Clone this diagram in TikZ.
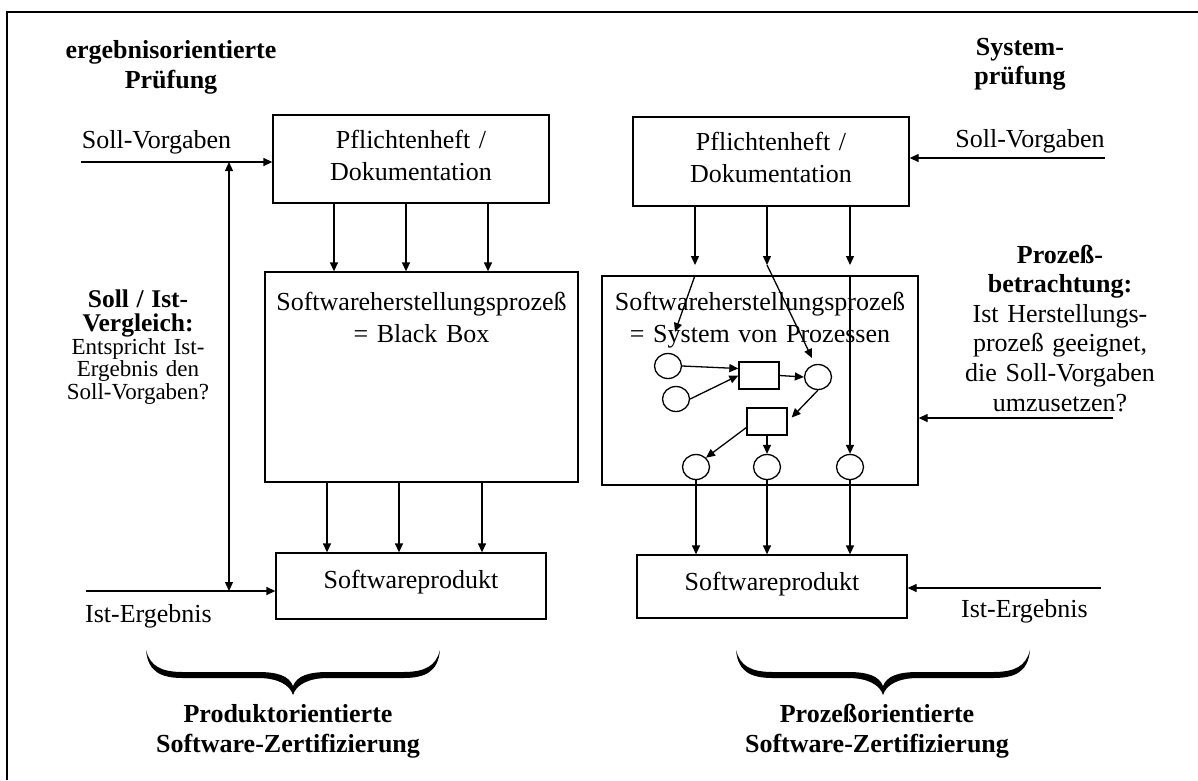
\documentclass[tikz,border=0pt]{standalone}
\usepackage{fontspec}
\setmainfont{Liberation Serif}
\usetikzlibrary{arrows.meta,shapes.geometric,calc}
\tikzset{
  ln/.style={line width=1.3pt},
  arr/.style={line width=1.3pt,-{Triangle[length=9pt,width=8pt]}},
  darr/.style={line width=1.3pt,{Triangle[length=9pt,width=8pt]}-{Triangle[length=9pt,width=8pt]}},
  box/.style={draw,line width=1.3pt,inner sep=0pt,rectangle},
  place/.style={draw,ellipse,line width=1.3pt,minimum width=27pt,minimum height=25pt,inner sep=0pt},
  trans/.style={draw,rectangle,line width=1.3pt,minimum width=40pt,minimum height=27pt,inner sep=0pt},
  txt/.style={inner sep=0pt,anchor=base,text width=#1,align=center},
  txt/.default=340pt,
  wbrace/.pic={
    \fill (-147,-45) .. controls (-145,-23) and (-132,-17) .. (-110,-17)
      -- (-35,-17) .. controls (-15,-17) and (-3,-10) .. (0,0)
      .. controls (3,-10) and (15,-17) .. (35,-17)
      -- (110,-17) .. controls (132,-17) and (145,-23) .. (147,-45)
      .. controls (143,-29) and (132,-23) .. (110,-23)
      -- (35,-23) .. controls (15,-23) and (4,-19) .. (0,-9)
      .. controls (-4,-19) and (-15,-23) .. (-35,-23)
      -- (-110,-23) .. controls (-132,-23) and (-143,-29) .. (-147,-45) -- cycle;
  }
}
\begin{document}
\begin{tikzpicture}[x=1pt,y=-1pt,every node/.style={font=\fontsize{26}{32}\selectfont}]
\path[fill=white,use as bounding box] (0,0) rectangle (1198,780);
\draw[line width=2pt] (7,780) -- (7,12) -- (1198,12);

% titles
\node[txt,font=\fontsize{26}{30}\selectfont\bfseries] (titL) at (171,58) {ergebnisorientierte\\Prüfung};
\node[txt,font=\fontsize{26}{29}\selectfont\bfseries] (titR) at (1020,55) {System-\\prüfung};

% boxes
\node[box,minimum width=276pt,minimum height=88pt] (pflL) at (411,159) {};
\node[box,minimum width=276pt,minimum height=89pt] (pflR) at (771,161.5) {};
\node[box,minimum width=313pt,minimum height=210pt] (bbL) at (421.5,377) {};
\node[box,minimum width=316pt,minimum height=209pt] (bbR) at (760,380.5) {};
\node[box,minimum width=270pt,minimum height=66pt] (spL) at (411,586) {};
\node[box,minimum width=270pt,minimum height=63pt] (spR) at (772,586.5) {};

\node[txt] (pflLt) at (411,148) {Pflichtenheft /\\Dokumentation};
\node[txt] (pflRt) at (771,150) {Pflichtenheft /\\Dokumentation};
\node[txt] (bbLt) at (421.5,310) {Softwareherstellungsprozeß\\= Black Box};
\node[txt] (bbRt) at (760,310) {Softwareherstellungsprozeß\\= System von Prozessen};
\node[txt] (spLt) at (411,588) {Softwareprodukt};
\node[txt] (spRt) at (772,590) {Softwareprodukt};

% side labels
\node[txt] (sollLt) at (156.5,148) {Soll-Vorgaben};
\node[txt] (sollRt) at (1030,147) {Soll-Vorgaben};
\node[txt] (istLt) at (148.5,622) {Ist-Ergebnis};
\node[txt] (istRt) at (1024.5,617) {Ist-Ergebnis};

\node[txt,font=\fontsize{23}{22.5}\selectfont] (cmpL) at (138,307)
  {{\fontsize{25.5}{22.5}\selectfont\bfseries Soll / Ist-}\\[2pt]{\fontsize{25.5}{22.5}\selectfont\bfseries Vergleich:}\\Entspricht Ist-\\Ergebnis den\\Soll-Vorgaben?};
\node[txt,font=\fontsize{26}{29.6}\selectfont] (prozR) at (1060,263)
  {\textbf{Prozeß-}\\\textbf{betrachtung:}\\Ist Herstellungs-\\prozeß geeignet,\\die Soll-Vorgaben\\umzusetzen?};

\node[txt,font=\fontsize{26}{30}\selectfont\bfseries] (certL) at (288,722) {Produktorientierte\\Software-Zertifizierung};
\node[txt,font=\fontsize{26}{30}\selectfont\bfseries] (certR) at (877,722) {Prozeßorientierte\\Software-Zertifizierung};

% braces
\pic (brL) at (293,695) {wbrace};
\pic (brR) at (883,695) {wbrace};

% left inputs
\coordinate (sl) at (81,162);
\coordinate (il) at (86,591);
\coordinate (vx) at (229,0);
\draw[arr] (sl) -- (sl -| pflL.west);
\draw[arr] (il) -- (il -| spL.west);
\draw[darr] (vx |- sl) -- (vx |- il);

% left vertical arrows
\foreach \x in {334,406,488}{
  \coordinate (t) at (\x,0);
  \draw[arr] (t |- pflL.south) -- (t |- bbL.north);
}
\foreach \x in {327,399,482}{
  \coordinate (t) at (\x,0);
  \draw[arr] (t |- bbL.south) -- (t |- spL.north);
}

% right inputs
\coordinate (sr) at (1105,158);
\coordinate (pr) at (1113,418);
\coordinate (ir) at (1101,588);
\draw[arr] (sr) -- (sr -| pflR.east);
\draw[arr] (pr) -- (pr -| bbR.east);
\draw[arr] (ir) -- (ir -| spR.east);

% petri net inside process box
\node[place] (c1) at (668,366) {};
\node[place] (c2) at (676,399) {};
\node[place] (c3) at (818,377) {};
\node[place] (c4) at (696,467) {};
\node[place] (c5) at (767,467) {};
\node[place] (c6) at (850,467) {};
\node[trans] (r1) at (759,375.5) {};
\node[trans] (r2) at (767,421.5) {};

\coordinate (ru1) at (695,265);
\coordinate (ru2) at (767,265);
\coordinate (ru3) at (850,265);
\draw[arr] (ru1 |- pflR.south) -- (ru1);
\draw[arr] (ru2 |- pflR.south) -- (ru2);
\draw[arr] (ru3 |- pflR.south) -- (ru3);
\coordinate (a1tip) at (675,332);
\coordinate (a2tip) at (812,358);
\draw[arr] (ru1 |- bbR.north) -- (a1tip);
\draw[arr] (ru2) -- (a2tip);
\draw[arr] (ru3 |- bbR.north) -- (c6.north);

\draw[arr] (c1.east) -- ($(r1.west)+(0,-7)$);
\draw[arr] (c2.east) -- (r1.west);
\draw[arr] (r1.east) -- (c3.west);
\draw[arr] (c3.south) -- ($(r2.east)+(4,-4)$);
\draw[arr] ($(r2.west)+(0,6)$) -- (c4.north east);
\draw[arr] (r2.south) -- (c5.north);

\draw[arr] (c4.south) -- (c4.south |- spR.north);
\draw[arr] (c5.south) -- (c5.south |- spR.north);
\draw[arr] (c6.south) -- (c6.south |- spR.north);
\end{tikzpicture}
\end{document}
